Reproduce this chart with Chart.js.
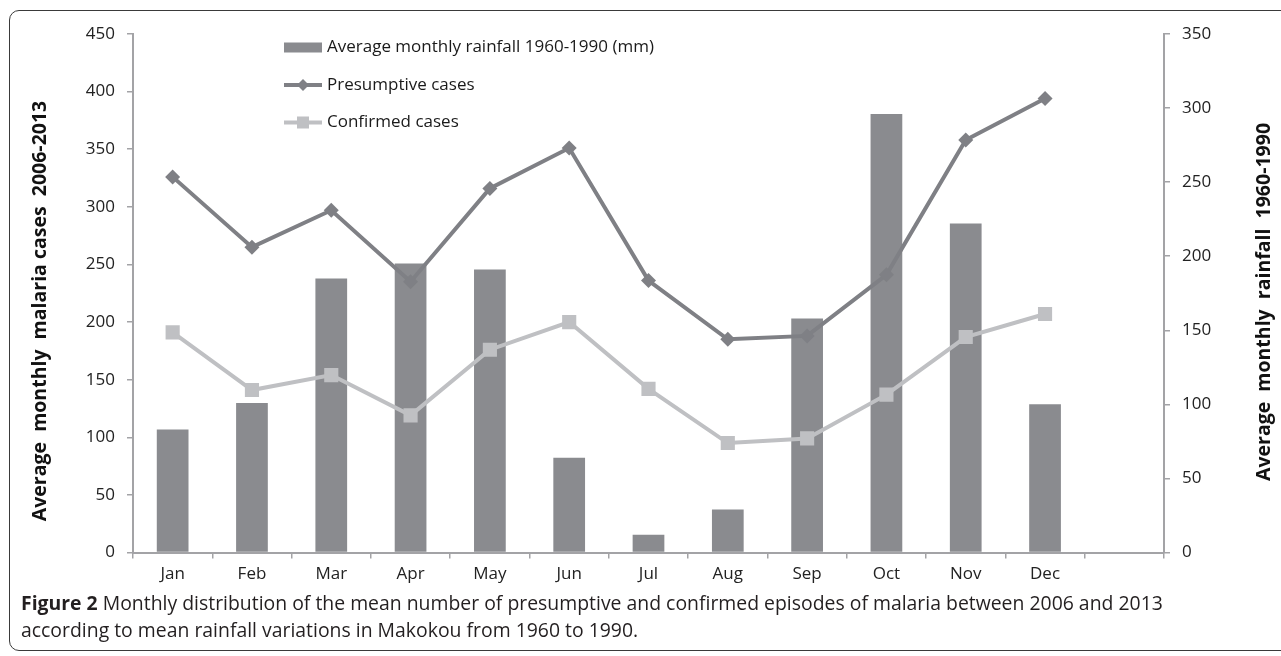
<!DOCTYPE html>
<html>
<head>
<meta charset="utf-8">
<script src="https://cdn.jsdelivr.net/npm/chart.js@4.4.1/dist/chart.umd.min.js"></script>
<style>
  html, body { margin: 0; padding: 0; background: #fff; }
  body { width: 1281px; height: 656px; position: relative; overflow: hidden; }
  #frame {
    position: absolute; left: 9px; top: 10px; width: 1300px; height: 641px;
    border: 1.5px solid #3a3a3a; border-radius: 10px; box-sizing: border-box;
  }
  #wrap { position: absolute; left: 0; top: 0; width: 1281px; height: 590px; }
  #caption {
    position: absolute; left: 21px; top: 589px; width: 1250px;
    font-family: "Open Sans", sans-serif;
    font-size: 20px; line-height: 27px; color: #231f20;
    transform: scaleX(0.97); transform-origin: left top;
  }
  #caption div { white-space: nowrap; }
</style>
</head>
<body>
<div id="frame"></div>
<div id="wrap"><canvas id="chart"></canvas></div>
<div id="caption">
  <div><b>Figure 2</b> Monthly distribution of the mean number of presumptive and confirmed episodes of malaria between 2006 and 2013</div>
  <div>according to mean rainfall variations in Makokou from 1960 to 1990.</div>
</div>
<script>
// categories (13th slot is empty, like the original)
const months = ['Jan', 'Feb', 'Mar', 'Apr', 'May', 'Jun', 'Jul', 'Aug', 'Sep', 'Oct', 'Nov', 'Dec', ''];

// rainfall (right axis, mm)
const rainfall = [83, 101, 185, 195, 191, 64, 12, 29, 158, 296, 222, 100];
// malaria cases (left axis)
const presumptive = [326, 265, 297, 235, 316, 351, 236, 185, 188, 241, 358, 394];
const confirmed = [191, 141, 154, 119, 176, 200, 142, 95, 99, 137, 187, 207];

const casesTicks = [0, 450, 50];   // min, max, step
const rainTicks = [0, 350, 50];

const leftTitle = 'Average  monthly  malaria cases  2006-2013';
const rightTitle = 'Average  monthly  rainfall  1960-1990';

const tickFont = { family: 'Open Sans', size: 17 };
const axisColor = '#a3a3a6';

// legend inside the plot + both axis titles read bottom-to-top
const extras = {
    id: 'extras',
    afterDraw(chart) {
        const c = chart.ctx;
        const x0 = 284, rowY = [47.5, 85, 122.5];
        c.save();
        c.font = '17px "Open Sans"';
        c.textBaseline = 'middle';
        chart.data.datasets.forEach((ds, i) => {
            const y = rowY[i];
            if (ds.type === 'line') {
                c.strokeStyle = ds.borderColor;
                c.lineWidth = 4;
                c.beginPath();
                c.moveTo(x0, y);
                c.lineTo(x0 + 38, y);
                c.stroke();
                c.fillStyle = ds.pointBackgroundColor;
                if (ds.pointStyle === 'rectRot') {
                    c.beginPath();
                    c.moveTo(x0 + 19, y - 6);
                    c.lineTo(x0 + 25, y);
                    c.lineTo(x0 + 19, y + 6);
                    c.lineTo(x0 + 13, y);
                    c.closePath();
                    c.fill();
                } else {
                    c.fillRect(x0 + 13, y - 6, 12, 12);
                }
            } else {
                c.fillStyle = ds.backgroundColor;
                c.fillRect(x0, y - 5, 38, 10);
            }
            c.fillStyle = '#1a1a1a';
            c.fillText(ds.label, x0 + 43, y);
        });

        c.font = 'bold 19.5px "Open Sans"';
        c.fillStyle = '#111';
        c.textAlign = 'center';
        [[leftTitle, 40, 311], [rightTitle, 1264, 302]].forEach(([t, x, y]) => {
            c.save();
            c.translate(x, y);
            c.rotate(-Math.PI / 2);
            c.fillText(t, 0, 0);
            c.restore();
        });
        c.restore();
    }
};

new Chart(document.getElementById('chart'), {
    type: 'bar',
    data: {
        labels: months,
        datasets: [{
            label: 'Average monthly rainfall 1960-1990 (mm)',
            data: rainfall,
            backgroundColor: '#8a8b8f',
            yAxisID: 'y1',
            barPercentage: 0.4,
            categoryPercentage: 1,
            order: 3
        }, {
            type: 'line',
            label: 'Presumptive cases',
            data: presumptive,
            borderColor: '#7f8085',
            backgroundColor: '#7f8085',
            pointBackgroundColor: '#7f8085',
            borderWidth: 4,
            pointStyle: 'rectRot',
            pointRadius: 7.5,
            pointBorderWidth: 0,
            tension: 0,
            yAxisID: 'y',
            order: 1
        }, {
            type: 'line',
            label: 'Confirmed cases',
            data: confirmed,
            borderColor: '#bfc0c3',
            backgroundColor: '#bfc0c3',
            pointBackgroundColor: '#bfc0c3',
            borderWidth: 4,
            pointStyle: 'rect',
            pointRadius: 10,
            pointBorderWidth: 0,
            tension: 0,
            yAxisID: 'y',
            order: 2
        }]
    },
    options: {
        responsive: true,
        maintainAspectRatio: false,
        animation: false,
        layout: { padding: { top: 34, left: 0, right: 0, bottom: 0 } },
        plugins: {
            legend: { display: false },
            tooltip: { enabled: false }
        },
        scales: {
            x: {
                offset: true,
                grid: { offset: true, drawOnChartArea: false, color: axisColor, lineWidth: 1.5, tickLength: 6 },
                border: { color: axisColor, width: 2 },
                ticks: { font: tickFont, color: '#222', padding: 5, maxRotation: 0 },
                afterFit: (s) => { s.height = 590 - 552.5; }
            },
            y: {
                position: 'left',
                min: casesTicks[0], max: casesTicks[1],
                ticks: { stepSize: casesTicks[2], font: tickFont, color: '#222', padding: 12 },
                grid: { drawOnChartArea: false, color: axisColor, lineWidth: 1.5, tickLength: 6 },
                border: { color: axisColor, width: 2 },
                afterFit: (s) => { s.width = 133; }
            },
            y1: {
                position: 'right',
                min: rainTicks[0], max: rainTicks[1],
                ticks: { stepSize: rainTicks[2], font: tickFont, color: '#222', padding: 12 },
                grid: { drawOnChartArea: false, color: axisColor, lineWidth: 1.5, tickLength: 6 },
                border: { color: axisColor, width: 2 },
                afterFit: (s) => { s.width = 1281 - 1164; }
            }
        }
    },
    plugins: [extras]
});
</script>
</body>
</html>
